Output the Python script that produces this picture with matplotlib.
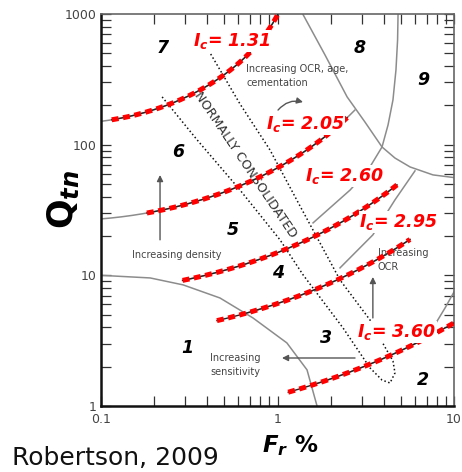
import numpy as np
import matplotlib
matplotlib.use("Agg")
import matplotlib.pyplot as plt
from matplotlib.ticker import LogLocator, NullFormatter

plt.rcParams.update({"font.family": ["DejaVu Sans"], "mathtext.fontset": "custom",
                     "mathtext.rm": "DejaVu Sans", "mathtext.bf": "DejaVu Sans:bold",
                     "mathtext.it": "DejaVu Sans:italic:bold"})

# Ic contours: Ic = sqrt((3.47 - log Qtn)^2 + (log Fr + 1.22)^2)
IC = [1.31, 2.05, 2.60, 2.95, 3.60]
IC_RED_FROM = [0.115, 0.182, 0.29, 0.454, 1.15]      # Fr % range of the highlighted part
IC_RED_TO = [1.06, 2.48, 4.75, 5.63, 10.0]
IC_GRAY_FROM = [0.10, 0.10, 0.29, 0.67, 1.67]        # Fr % range of the chart boundary
IC_GRAY_TO = [1.06, 2.74, 4.75, 5.63, 7.6]

# other SBT zone boundaries (Fr %, Qtn)
ZONE1_F = [0.1, 0.19, 0.292, 0.472, 0.726, 1.13, 1.47, 1.675]
ZONE1_Q = [10, 9.55, 8.45, 6.71, 4.72, 3.04, 1.89, 1.0]
ZONE8_F = [1.39, 1.86, 2.48, 3.13, 3.91, 4.63, 5.64, 7.6, 10]
ZONE8_Q = [1000, 485, 232, 149, 96, 79, 67.5, 58.7, 56]
ZONE9_F = [4.82, 4.79, 4.69, 4.51, 4.23, 3.91, 3.26, 2.58, 1.59]
ZONE9_Q = [1000, 632, 373, 220, 141.6, 96, 64, 45, 25.2]
OCR_F = [6.01, 4.63, 3.47, 2.26]
OCR_Q = [63, 37.8, 20.4, 11.4]
ZONE2_F = [10, 8.9, 7.6]
ZONE2_Q = [7.46, 5.63, 3.96]
# normally consolidated band (down one side, round the tip, back up)
NC_F = [0.222, 0.350, 0.613, 1.033, 1.395, 2.35, 3.34, 3.91, 4.34, 4.63, 4.51, 4.06, 3.34, 2.26, 1.34, 0.907, 0.613, 0.415]
NC_Q = [232, 109, 45, 18.7, 10.1, 3.96, 1.96, 1.58, 1.50, 1.79, 2.21, 2.83, 4.56, 9.22, 34, 91, 205, 503]

ZONES = ["1", "2", "3", "4", "5", "6", "7", "8", "9"]
ZONE_AT = [(0.307, 2.79), (6.67, 1.58), (1.88, 3.32), (1.007, 10.4), (0.56, 22.2),
           (0.273, 87.9), (0.224, 549), (2.93, 549), (6.67, 313)]
IC_LABEL_AT = [(0.552, 621), (1.43, 144), (2.41, 57.6), (4.87, 25.6), (4.75, 3.69)]

GRAY = "#8c8c8c"


def ic_curve(ic, f0, f1, n=150):
    lf = np.linspace(np.log10(f0), np.log10(f1), n)
    lq = 3.47 - np.sqrt(np.clip(ic ** 2 - (lf + 1.22) ** 2, 0, None))
    return 10 ** lf, 10 ** lq


fig = plt.figure(figsize=(4.62, 4.72), dpi=100, facecolor="white")
ax = fig.add_axes([101 / 462, 66 / 472, 353 / 462, 392 / 472])
ax.set_xscale("log"); ax.set_yscale("log")
ax.set_xlim(0.1, 10); ax.set_ylim(1, 1000)

for f, q in [(ZONE1_F, ZONE1_Q), (ZONE8_F, ZONE8_Q), (ZONE9_F, ZONE9_Q), (OCR_F, OCR_Q), (ZONE2_F, ZONE2_Q)]:
    ax.plot(f, q, color=GRAY, lw=1.1, zorder=2)
ax.plot(NC_F, NC_Q, color="#111", lw=1.1, ls=(0, (1, 1.6)), zorder=2)

for ic, g0, g1, r0, r1 in zip(IC, IC_GRAY_FROM, IC_GRAY_TO, IC_RED_FROM, IC_RED_TO):
    ax.plot(*ic_curve(ic, g0, g1), color=GRAY, lw=1.1, zorder=2)
    ax.plot(*ic_curve(ic, r0, r1), color="#222", lw=1.0, zorder=3)
    ax.plot(*ic_curve(ic, r0, r1), color="#ff0000", lw=3.6, ls=(0, (1.4, 0.9)),
            dash_capstyle="butt", zorder=4)

for ic, (x, y) in zip(IC, IC_LABEL_AT):
    ax.text(x, y, f"$I_c$= {ic:.2f}", color="#ff0000", fontsize=12.5, fontweight="bold",
            fontstyle="italic", ha="center", va="center", zorder=6,
            bbox=dict(facecolor="white", edgecolor="none", pad=0.5))

for z, (x, y) in zip(ZONES, ZONE_AT):
    ax.text(x, y, z, fontsize=12.5, fontweight="bold", fontstyle="italic", ha="center", va="center", zorder=5)

ax.text(0.66, 70, "NORMALLY CONSOLIDATED", rotation=-56, fontsize=9.2, color="#333",
        ha="center", va="center", rotation_mode="anchor", zorder=3)

note = dict(fontsize=7, color="#444", linespacing=1.45, zorder=3)
arr = dict(arrowstyle="-|>", color="#555", lw=1.0, mutation_scale=9, shrinkA=0, shrinkB=0)
ax.text(0.664, 336, "Increasing OCR, age,\ncementation", ha="left", va="center", **note)
ax.annotate("", xy=(1.395, 212), xytext=(1.007, 184),
            arrowprops=dict(arr, connectionstyle="arc3,rad=-0.3"), zorder=3)
ax.text(0.27, 14.3, "Increasing density", ha="center", va="center", **note)
ax.annotate("", xy=(0.216, 58.6), xytext=(0.216, 18.7), arrowprops=arr, zorder=3)
ax.text(0.415, 2.06, "Increasing\nsensitivity", ha="left", va="center", **note)
ax.annotate("", xy=(1.06, 2.33), xytext=(2.75, 2.33), arrowprops=arr, zorder=3)
ax.text(3.71, 13.1, "Increasing\nOCR", ha="left", va="center", **note)
ax.annotate("", xy=(3.47, 9.72), xytext=(3.47, 4.72), arrowprops=arr, zorder=3)

ax.set_xticks([0.1, 1, 10], ["0.1", "1", "10"])
ax.set_yticks([1, 10, 100, 1000], ["1", "10", "100", "1000"])
for a in (ax.xaxis, ax.yaxis):
    a.set_minor_locator(LogLocator(base=10, subs=np.arange(2, 10)))
    a.set_minor_formatter(NullFormatter())
ax.tick_params(which="both", direction="in", top=True, right=True, length=7.5, width=0.9,
               color="#333", labelsize=9, labelcolor="#444")
ax.tick_params(axis="x", pad=5)
ax.tick_params(axis="y", pad=3)
for s in ("left", "bottom"):
    ax.spines[s].set_linewidth(1.8); ax.spines[s].set_color("#111")
for s in ("top", "right"):
    ax.spines[s].set_linewidth(1.2); ax.spines[s].set_color("#666")

fig.text(63 / 462, 1 - 199 / 472, r"$\mathbf{Q}_{tn}$", rotation=90, fontsize=25,
         ha="center", va="center")
fig.text(262 / 462, 20 / 472, r"$F_r$ %", fontsize=16.5, fontweight="bold", ha="left", va="baseline")
fig.text(12 / 462, 7 / 472, "Robertson, 2009", fontsize=18, color="#111", ha="left", va="baseline")

fig.savefig("out.png", dpi=100, facecolor="white")
